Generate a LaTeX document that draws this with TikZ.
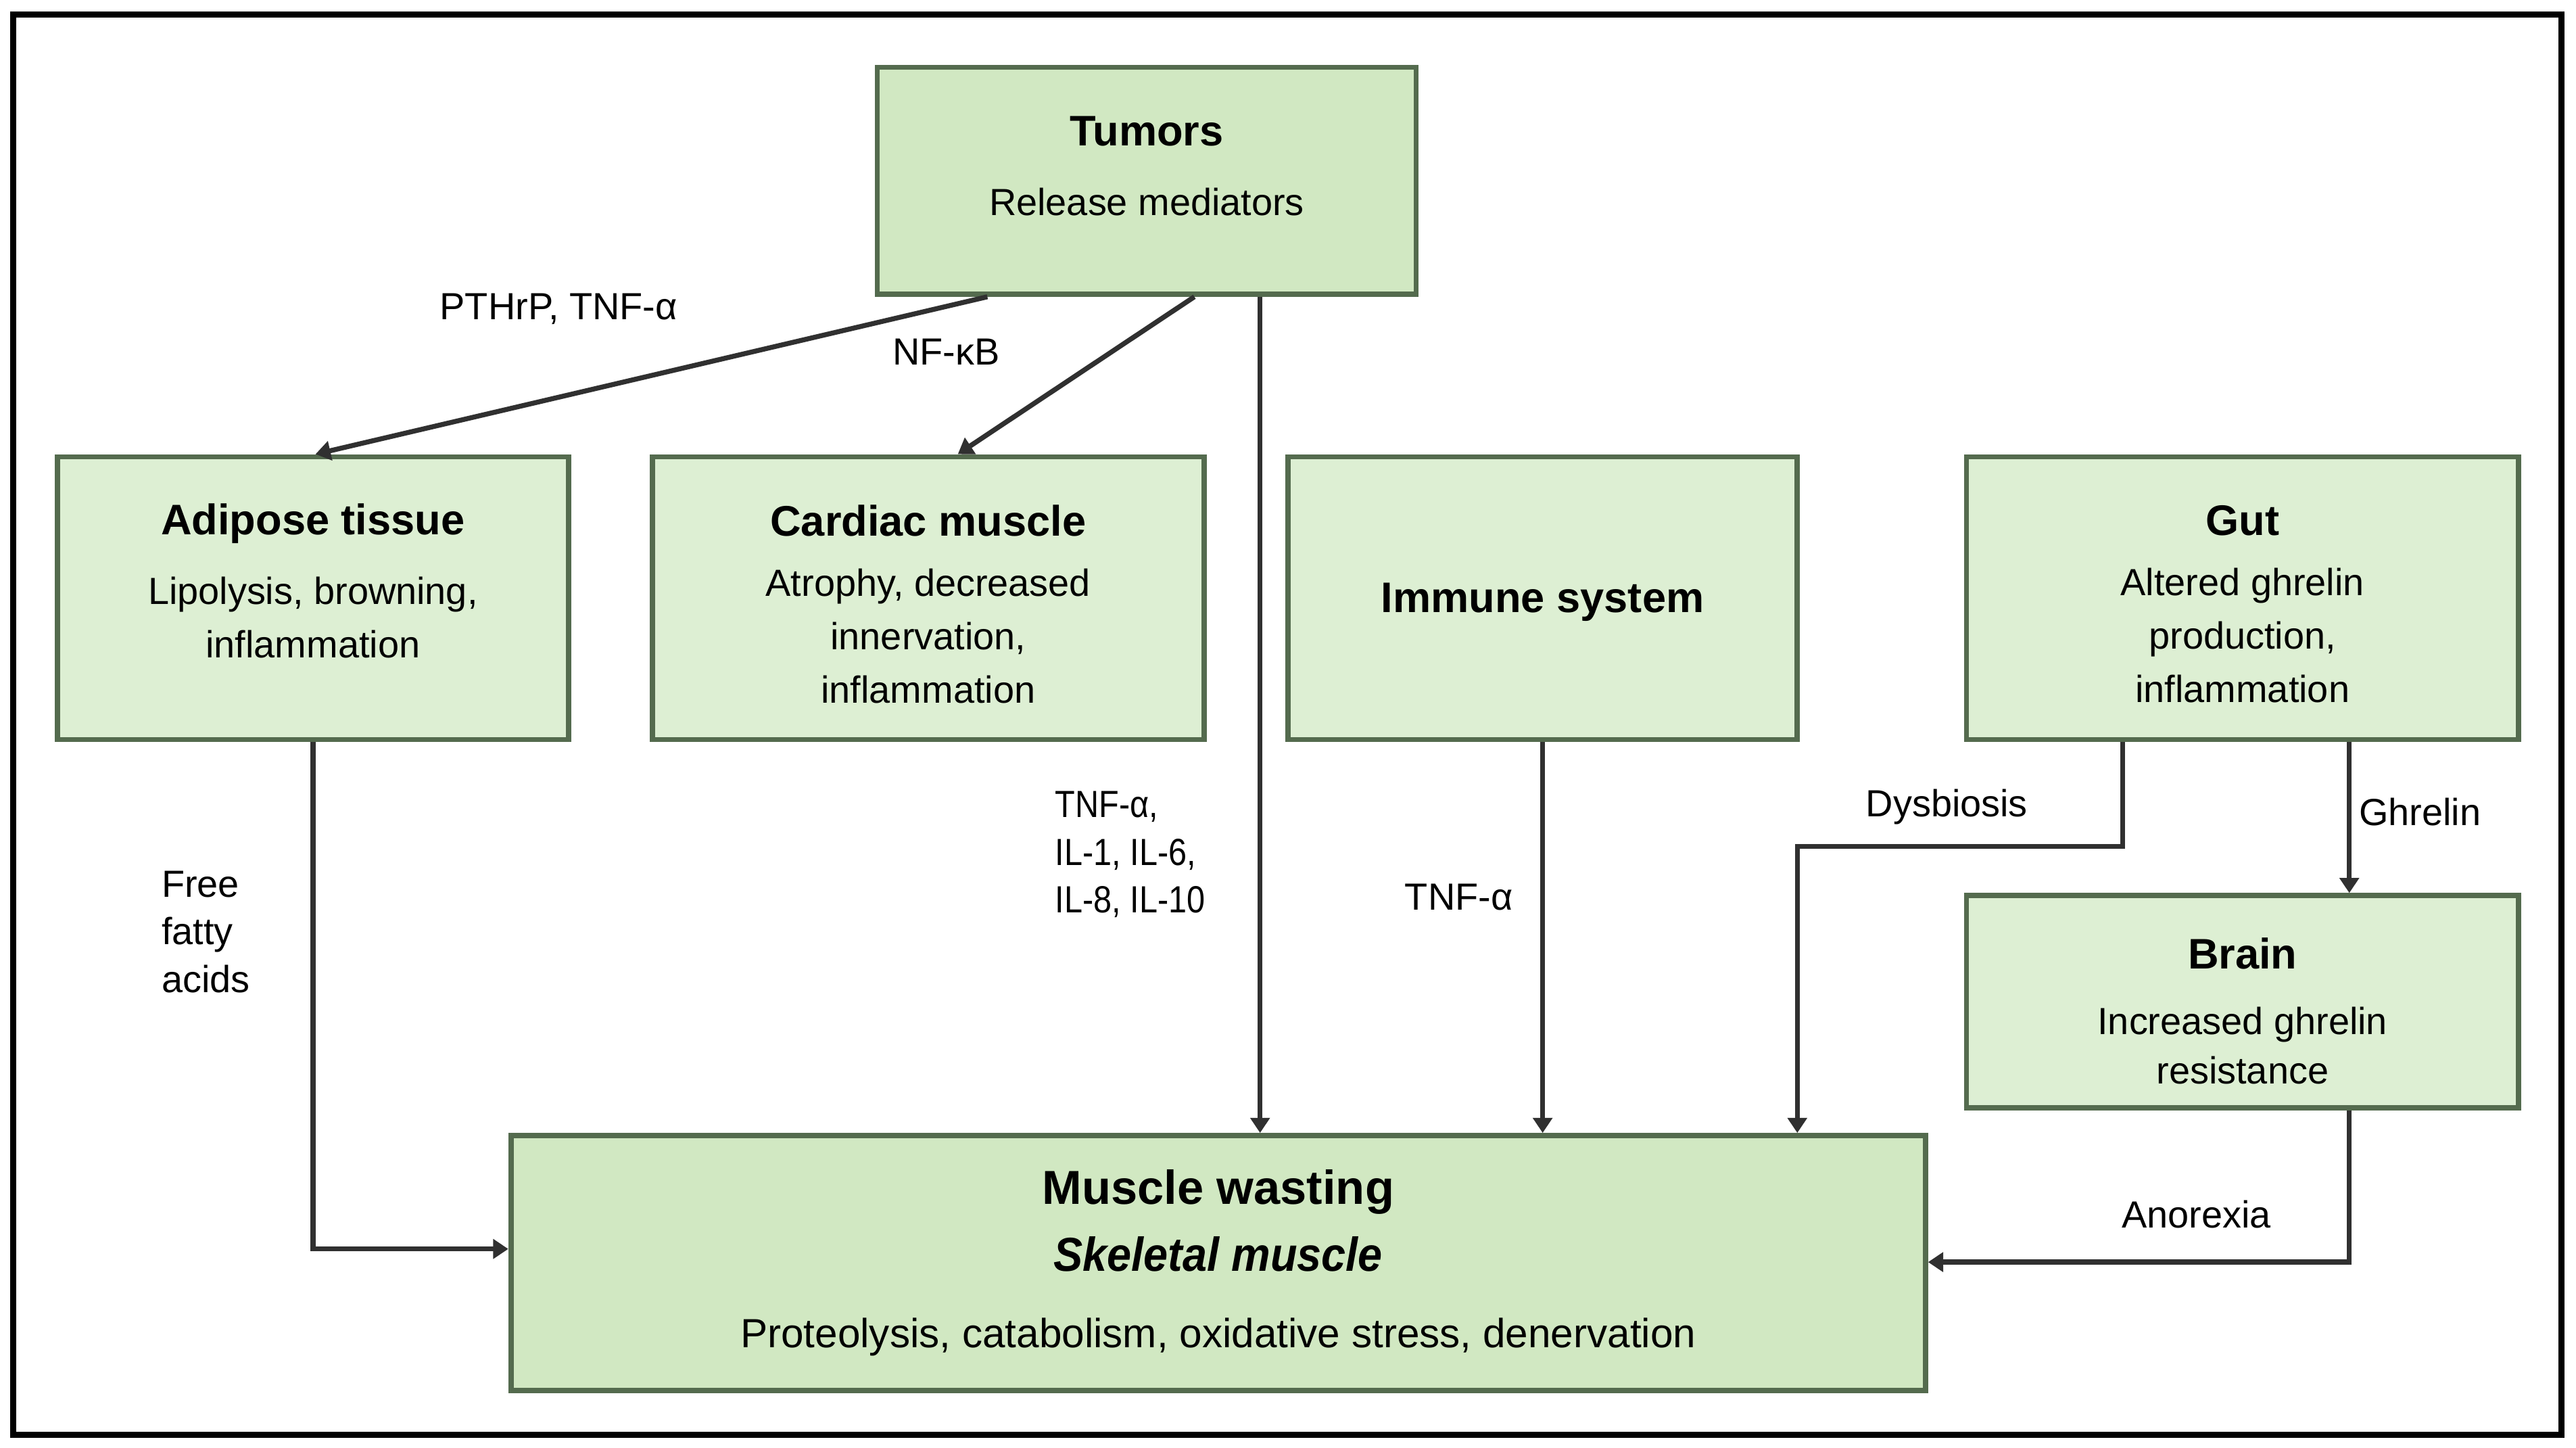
\documentclass[tikz,border=0pt]{standalone}
\usepackage{fontspec}
\setmainfont{Liberation Sans}
\newfontfamily\narrowsans[FakeStretch=0.87]{Liberation Sans}
\newfontfamily\slimsans[FakeStretch=0.92]{Liberation Sans}
\usepackage{tikz}
\usetikzlibrary{arrows.meta}

\definecolor{boxfill}{RGB}{221,239,211}
\definecolor{boxfilldark}{RGB}{209,232,194}
\definecolor{boxline}{RGB}{84,107,78}
\definecolor{arrowgray}{RGB}{48,48,48}

\tikzset{
  organ/.style={draw=boxline, line width=1.6pt, fill=boxfill, inner sep=0pt},
  organdark/.style={organ, fill=boxfilldark},
  boxtext/.style={align=center, inner sep=0pt, font=\fontsize{11.5}{16.25}\selectfont},
  link/.style={draw=arrowgray, line width=1.5pt, -{Triangle[length=4.6pt,width=5.8pt]}},
  lbl/.style={inner sep=0pt, font=\fontsize{11.5}{14.5}\selectfont},
}
\newcommand{\boxtitle}[1]{{\fontsize{13}{16}\selectfont\bfseries #1}}

\begin{document}
\begin{tikzpicture}[x=0.5pt,y=0.5pt,yscale=-1,xscale=1]
        \useasboundingbox (0,0) rectangle (1568,881);
        %Shape: Frame
        \draw [line width=1.85pt] (8,9) rectangle (1559,873);

        %Shape: Box tumors
        \node [organdark, minimum width=164pt, minimum height=69pt] (tumors) at (698,110) {};
        %Shape: Box adipose
        \node [organ, minimum width=155.5pt, minimum height=86pt] (adipose) at (190.5,364) {};
        %Shape: Box cardiac
        \node [organ, minimum width=168pt, minimum height=86pt] (cardiac) at (565,364) {};
        %Shape: Box immune
        \node [organ, minimum width=155pt, minimum height=86pt] (immune) at (939,364) {};
        %Shape: Box gut
        \node [organ, minimum width=168pt, minimum height=86pt] (gut) at (1365,364) {};
        %Shape: Box brain
        \node [organ, minimum width=168pt, minimum height=64.5pt] (brain) at (1365,609.5) {};
        %Shape: Box muscle
        \node [organdark, minimum width=430.5pt, minimum height=77.5pt] (muscle) at (741.5,768.5) {};

        % Text Node (yshift is flipped by yscale=-1)
        \node [boxtext] (tumorstext) at ([yshift=-4.4pt]tumors.center)
          {\boxtitle{Tumors}\\[5pt]Release mediators};
        % Text Node
        \node [boxtext] (adiposetext) at ([yshift=-5.3pt]adipose.center)
          {\boxtitle{Adipose tissue}\\[5pt]Lipolysis, browning,\\inflammation};
        % Text Node
        \node [boxtext] (cardiactext) at ([yshift=1.8pt]cardiac.center)
          {\boxtitle{Cardiac muscle}\\[2pt]Atrophy, decreased\\innervation,\\inflammation};
        % Text Node
        \node [boxtext] (immunetext) at ([yshift=1.25pt]immune.center)
          {\boxtitle{Immune system}};
        % Text Node
        \node [boxtext] (guttext) at ([yshift=1.8pt]gut.center)
          {\boxtitle{Gut}\\[2pt]Altered ghrelin\\production,\\inflammation};
        % Text Node
        \node [boxtext, font=\fontsize{11.5}{15}\selectfont] (braintext) at ([yshift=2.8pt]brain.center)
          {\boxtitle{Brain}\\[5pt]Increased ghrelin\\resistance};
        % Text Node
        \node [boxtext, font=\fontsize{12.4}{16.25}\selectfont] (muscletext) at (muscle.center)
          {{\fontsize{14.5}{17}\selectfont\bfseries Muscle wasting}\\[4pt]
           {\slimsans\fontsize{14.5}{17}\selectfont\bfseries\itshape Skeletal muscle}\\[7pt]
           Proteolysis, catabolism, oxidative stress, denervation};

        %Straight Lines: from tumors
        \draw [link] (601,0 |- tumors.south) -- (192,0 |- adipose.north);
        \draw [link] (727,0 |- tumors.south) -- (583,0 |- cardiac.north);
        \draw [link] (767,0 |- tumors.south) -- (767,0 |- muscle.north);
        %Straight Lines: into muscle
        \draw [link] (immune.south) -- (immune.south |- muscle.north);
        \draw [link] (adipose.south) |- (muscle.west |- 0,760);
        \draw [link] (1292,0 |- gut.south) -- (1292,515) -- (1094,515) -- (1094,0 |- muscle.north);
        \draw [link] (1430,0 |- gut.south) -- (1430,0 |- brain.north);
        \draw [link] (1430,0 |- brain.south) |- (muscle.east |- 0,768);

        % Text Node
        \node [lbl] (lpthrp) at (340,188) {PTHrP, TNF-α};
        % Text Node
        \node [lbl] (lnfkb) at (576,214) {NF-κB};
        % Text Node
        \node [lbl, anchor=west, align=left, font=\narrowsans\fontsize{11.5}{14.5}\selectfont] (lcyto) at (642,520) {TNF-α,\\IL-1, IL-6,\\IL-8, IL-10};
        % Text Node
        \node [lbl] (ltnf) at (888,546) {TNF-α};
        % Text Node
        \node [lbl, anchor=west, align=left] (lffa) at (98,567) {Free\\fatty\\acids};
        % Text Node
        \node [lbl] (ldysb) at (1185,491) {Dysbiosis};
        % Text Node
        \node [lbl] (lghrelin) at (1473,494) {Ghrelin};
        % Text Node
        \node [lbl] (lanorexia) at (1337,739) {Anorexia};
\end{tikzpicture}
\end{document}
